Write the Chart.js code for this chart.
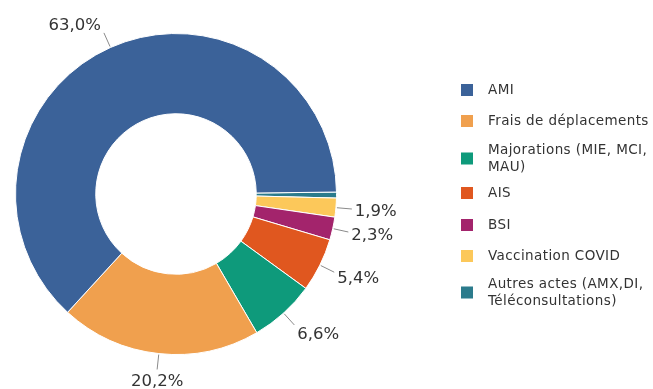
<!DOCTYPE html>
<html lang="fr">
<head>
  <meta charset="UTF-8">
  <title>Répartition des actes</title>
  <script src="https://cdn.jsdelivr.net/npm/chart.js"></script>
  <style>
    html, body { margin: 0; padding: 0; background: #fff; }
    #wrap { width: 653px; height: 389px; position: relative; }
  </style>
</head>
<body>
  <div id="wrap"><canvas id="donut" width="653" height="389"></canvas></div>

  <script>
    // data, in legend order
    const labels = ['AMI', 'Frais de déplacements', 'Majorations (MIE, MCI, MAU)', 'AIS', 'BSI', 'Vaccination COVID', 'Autres actes (AMX,DI, Téléconsultations)'];
    const legendLines = [['AMI'], ['Frais de déplacements'], ['Majorations (MIE, MCI,', 'MAU)'], ['AIS'], ['BSI'], ['Vaccination COVID'], ['Autres actes (AMX,DI,', 'Téléconsultations)']];
    const values = [63.0, 20.2, 6.6, 5.4, 2.3, 1.9, 0.6];
    const valueLabels = ['63,0%', '20,2%', '6,6%', '5,4%', '2,3%', '1,9%', ''];
    const colors = ['#3b6299', '#f0a04e', '#0e9a7b', '#e0571f', '#a3246c', '#fcc85a', '#2b7b8c'];

    // slices run counter-clockwise in the original, so feed them reversed
    const rev = arr => arr.slice().reverse();

    const labelPlugin = {
      id: 'outLabels',
      afterDatasetsDraw(chart) {
        const ctx = chart.ctx;
        const arcs = chart.getDatasetMeta(0).data;
        const txt = rev(valueLabels);
        ctx.save();
        ctx.font = '16.5px "DejaVu Sans"';
        ctx.fillStyle = '#333';
        ctx.strokeStyle = '#8a8a8a';
        ctx.lineWidth = 1;
        arcs.forEach((arc, i) => {
          if (!txt[i]) return;
          const p = arc.getProps(['x', 'y', 'startAngle', 'endAngle', 'outerRadius']);
          const mid = (p.startAngle + p.endAngle) / 2;
          const c = Math.cos(mid), s = Math.sin(mid);
          const x1 = p.x + c * (p.outerRadius + 1), y1 = p.y + s * (p.outerRadius + 1);
          const x2 = p.x + c * (p.outerRadius + 16), y2 = p.y + s * (p.outerRadius + 16);
          ctx.beginPath();
          ctx.moveTo(x1, y1);
          ctx.lineTo(x2, y2);
          ctx.stroke();
          let tx = x2;
          if (c > 0.3) { ctx.textAlign = 'left'; tx = x2 + 3; }
          else if (c < -0.3) { ctx.textAlign = 'right'; tx = x2 - 3; }
          else ctx.textAlign = 'center';
          ctx.textBaseline = 'middle';
          ctx.fillText(txt[i], tx, y2 + s * 10 + 2);
        });
        ctx.restore();
      },
      afterDraw(chart) {
        // legend on the right
        const ctx = chart.ctx;
        const itemY = [90, 121, 150, 193, 225, 256, 284];
        ctx.save();
        ctx.font = '13.5px "DejaVu Sans"';
        ctx.letterSpacing = '0.4px';
        ctx.textBaseline = 'middle';
        ctx.textAlign = 'left';
        legendLines.forEach((lines, i) => {
          const y = itemY[i];
          const boxY = y + (lines.length - 1) * 8.5 - 6;
          ctx.fillStyle = colors[i];
          ctx.fillRect(461, boxY, 12, 12);
          ctx.fillStyle = '#333';
          lines.forEach((l, j) => ctx.fillText(l, 488, y + j * 17));
        });
        ctx.restore();
      }
    };

    new Chart(document.getElementById('donut'), {
      type: 'doughnut',
      data: {
        labels: rev(labels),
        datasets: [{
          data: rev(values),
          backgroundColor: rev(colors),
          borderColor: '#fff',
          borderWidth: 1
        }]
      },
      options: {
        responsive: false,
        animation: false,
        cutout: '50%',
        rotation: 89.3,
        layout: { padding: { top: 33, bottom: 34, left: 14, right: 315 } },
        plugins: {
          legend: { display: false },
          tooltip: { enabled: false }
        }
      },
      plugins: [labelPlugin]
    });
  </script>
</body>
</html>
